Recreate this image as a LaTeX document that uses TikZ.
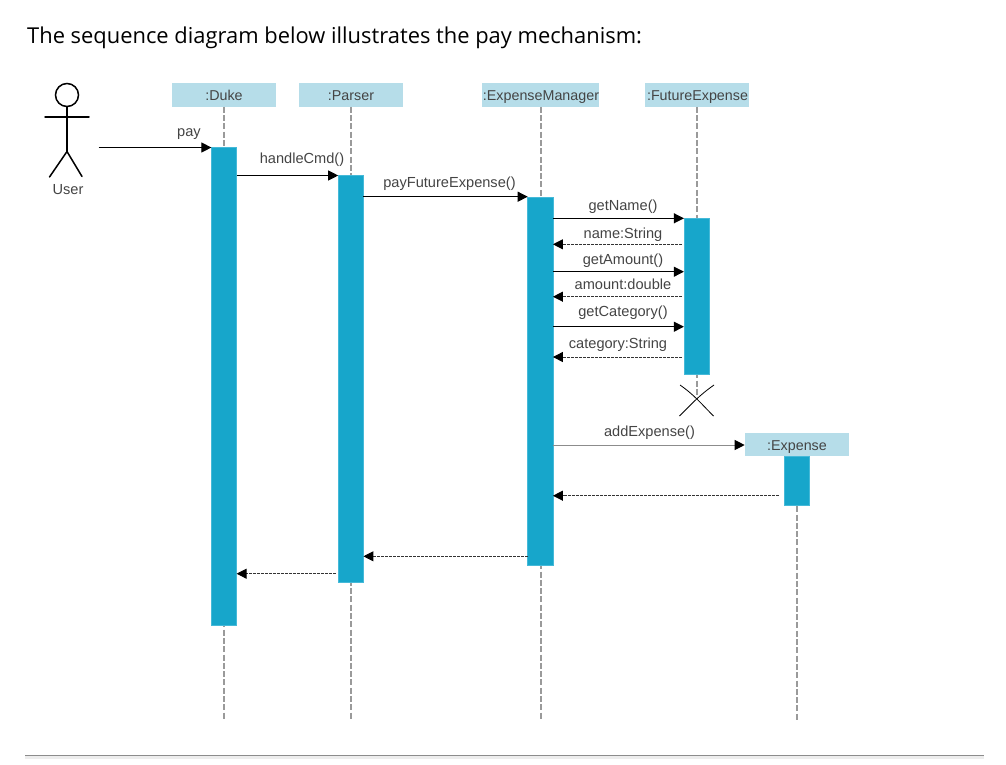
\documentclass[tikz,border=0pt]{standalone}
\usepackage{fontspec}
\setmainfont{Liberation Sans}
\newfontfamily\titlefont{Open Sans}
\usetikzlibrary{arrows.meta}
\definecolor{headfill}{HTML}{B6DDE9}
\definecolor{barfill}{HTML}{17A6CB}
\definecolor{barline}{HTML}{45B9D8}
\definecolor{lifegray}{HTML}{9A9A9A}
\definecolor{labelgray}{HTML}{444444}
\tikzset{
  x=1pt,y=-1pt,
  head/.style={fill=headfill,inner sep=0pt,outer sep=0pt},
  headtext/.style={text=labelgray,font=\fontsize{14.3}{16}\selectfont,inner sep=0pt,anchor=base},
  bar/.style={fill=barfill,draw=barline,line width=.5pt,inner sep=0pt,outer sep=0pt,minimum width=25.2pt},
  lifeline/.style={draw=lifegray,line width=2pt,dash pattern=on 6pt off 2.3pt},
  msg/.style={draw=black,line width=1pt,-{Triangle[length=10pt,width=10pt]}},
  ret/.style={draw=black!80,line width=1pt,dash pattern=on 3pt off 1pt,-{Triangle[length=10pt,width=10pt,color=black]}},
  lbl/.style={text=labelgray,font=\fontsize{14.6}{16}\selectfont,inner sep=0pt,anchor=base},
  stick/.style={draw=black,line width=1.5pt,line cap=round},
}
\begin{document}
\begin{tikzpicture}
\useasboundingbox (0,0) rectangle (1006,764);
\node[anchor=base west,inner sep=0pt,text=black,font=\titlefont\fontsize{21.9}{26}\selectfont] (title) at (27,43.5) {The sequence diagram below illustrates the pay mechanism:};

% lifeline ends
\coordinate (dukeend) at (224,720);
\coordinate (parserend) at (351,720);
\coordinate (emend) at (541,720);
\coordinate (exend) at (797,720);
\coordinate (fewhere) at (697,396);

% headers
\node[head,minimum width=104pt,minimum height=23.5pt] (duke) at (224,95) {};
\node[head,minimum width=104pt,minimum height=23.5pt] (parser) at (351,95) {};
\node[head,minimum width=116.5pt,minimum height=23.5pt] (em) at (540.5,95) {};
\node[head,minimum width=103.7pt,minimum height=23.5pt] (fe) at (696.8,95) {};
\node[head,minimum width=104pt,minimum height=23.5pt] (ex) at (796.7,444.7) {};
\node[headtext] (dukel) at (224,100) {:Duke};
\node[headtext] (parserl) at (351,100) {:Parser};
\node[headtext] (eml) at (541,100) {:ExpenseManager};
\node[headtext] (fel) at (697.5,100) {:FutureExpense};
\node[headtext] (exl) at (797,450) {:Expense};

% lifelines
\draw[lifeline] (dukeend |- duke.south) -- (dukeend);
\draw[lifeline] (parserend |- parser.south) -- (parserend);
\draw[lifeline] (emend |- em.south) -- (emend);
\draw[lifeline] (fewhere |- fe.south) -- (fewhere);
\draw[lifeline] (exend |- ex.south) -- (exend);

% activation bars
\node[bar,minimum height=477.8pt] (dukebar) at (224,386.2) {};
\node[bar,minimum height=407.5pt] (parserbar) at (350.8,378.5) {};
\node[bar,minimum height=368.5pt] (embar) at (540.3,381) {};
\node[bar,minimum height=156pt] (febar) at (696.5,296.3) {};
\node[bar,minimum height=49pt] (exbar) at (796.8,480.7) {};

% actor
\node[draw=black,line width=1.5pt,circle,minimum size=23pt,inner sep=0pt,outer sep=0pt] (userhead) at (67,95) {};
\coordinate (armL) at (45,117);
\coordinate (armR) at (89,117);
\coordinate (hip) at (67,151.5);
\coordinate (legL) at (49.5,177);
\coordinate (legR) at (82,176.5);
\draw[stick] (userhead.south) -- (hip);
\draw[stick] (armL) -- (armR);
\draw[stick] (legL) -- (hip) -- (legR);
\node[lbl] (user) at (68,194) {User};
\coordinate (userout) at (98.5,147.5);

% destroy mark
\coordinate (xa) at (680,385);
\coordinate (xb) at (713.5,416);
\coordinate (xc) at (714,385);
\coordinate (xd) at (679.5,416);
\draw[black,line width=.8pt] (xa) to[out=-35,in=135] (xb);
\draw[black,line width=.8pt] (xc) to[out=-145,in=45] (xd);

% rows
\coordinate (r1) at (0,147.5);
\coordinate (r2) at (0,175.5);
\coordinate (r3) at (0,196.7);
\coordinate (r4) at (0,218.3);
\coordinate (r5) at (0,244.3);
\coordinate (r6) at (0,271.7);
\coordinate (r7) at (0,296.7);
\coordinate (r8) at (0,326.7);
\coordinate (r9) at (0,357);
\coordinate (r10) at (0,445);
\coordinate (r11) at (0,495.7);
\coordinate (r12) at (0,556.3);
\coordinate (r13) at (0,573.7);
\coordinate (gapa) at (682,0);
\coordinate (gapb) at (779,0);
\coordinate (gapc) at (336,0);

% messages
\draw[msg] (userout) -- (dukebar.west |- r1);
\draw[msg] (dukebar.east |- r2) -- (parserbar.west |- r2);
\draw[msg] (parserbar.east |- r3) -- (embar.west |- r3);
\draw[msg] (embar.east |- r4) -- (febar.west |- r4);
\draw[ret] (gapa |- r5) -- (embar.east |- r5);
\draw[msg] (embar.east |- r6) -- (febar.west |- r6);
\draw[ret] (gapa |- r7) -- (embar.east |- r7);
\draw[msg] (embar.east |- r8) -- (febar.west |- r8);
\draw[ret] (gapa |- r9) -- (embar.east |- r9);
\draw[msg,draw=black!45,-{Triangle[length=10pt,width=10pt,color=black]}] (embar.east |- r10) -- (ex.west |- r10);
\draw[ret] (gapb |- r11) -- (embar.east |- r11);
\draw[ret] (embar.west |- r12) -- (parserbar.east |- r12);
\draw[ret] (gapc |- r13) -- (dukebar.east |- r13);

% labels
\node[lbl] (l1) at (189,136.7) {pay};
\node[lbl] (l2) at (302,163.3) {handleCmd()};
\node[lbl] (l3) at (449.5,187.5) {payFutureExpense()};
\node[lbl] (l4) at (623,210.7) {getName()};
\node[lbl] (l5) at (623,238.3) {name:String};
\node[lbl] (l6) at (623,264.3) {getAmount()};
\node[lbl] (l7) at (623,289.3) {amount:double};
\node[lbl] (l8) at (623,316.7) {getCategory()};
\node[lbl] (l9) at (618,348.3) {category:String};
\node[lbl] (l10) at (649.5,436) {addExpense()};

% bottom rule
\coordinate (ruleL) at (25,755.5);
\coordinate (ruleR) at (984,755.5);
\fill[black!7] (ruleL) rectangle (984,759);
\draw[black!45,line width=1pt] (ruleL) -- (ruleR);
\end{tikzpicture}
\end{document}
